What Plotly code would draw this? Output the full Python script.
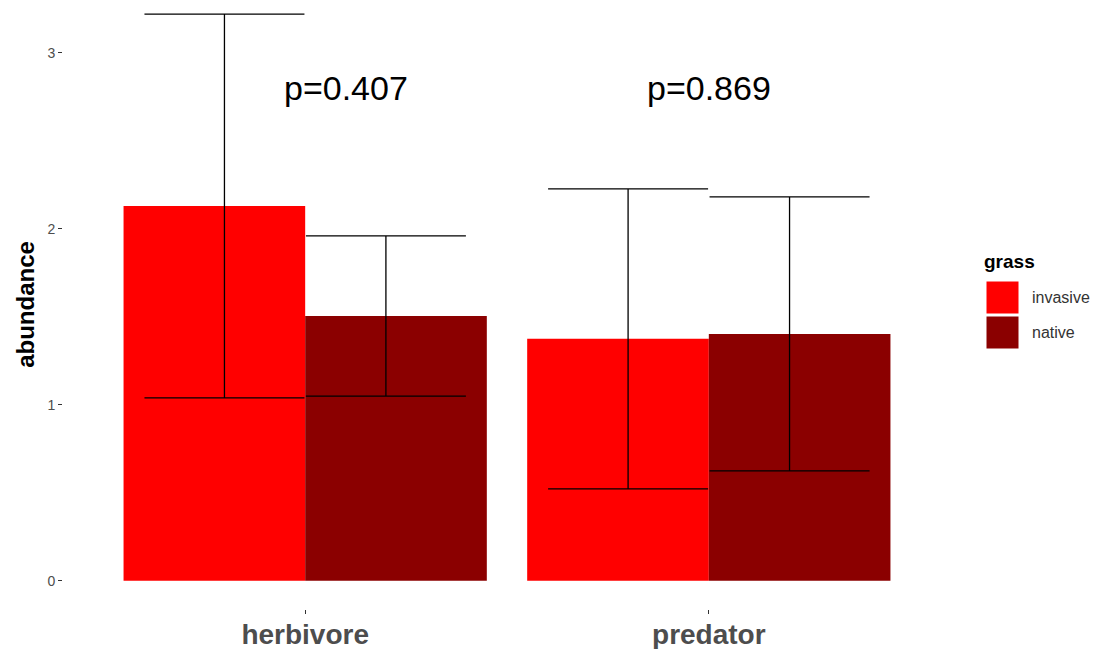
import plotly.graph_objects as go

categories = ["herbivore", "predator"]
groups = ["invasive", "native"]
colors = {"invasive": "#FF0000", "native": "#8B0000"}
means = {"invasive": [2.13, 1.375], "native": [1.505, 1.403]}
ses = {"invasive": [1.09, 0.852], "native": [0.455, 0.778]}
pvals = ["p=0.407", "p=0.869"]
p_x = [1.1, 2.0]
p_y = [2.8, 2.8]

xpos = [i + 1 for i in range(len(categories))]
dodge = {"invasive": -0.2, "native": 0.2}

# plot-area geometry in pixels (for the manual legend)
L, R, T, B = 63, 149, 0, 40
W, H = 1100, 649
PW, PH = W - L - R, H - T - B


def px_to_paper(xp, yp):
    return (xp - L) / PW, 1 - (yp - T) / PH


fig = go.Figure()
for g in groups:
    fig.add_trace(go.Bar(x=xpos, y=means[g], name=g, marker=dict(color=colors[g], line=dict(width=0)),
                         showlegend=False, hoverinfo="skip"))
for g in groups:
    fig.add_trace(go.Scatter(x=[x + dodge[g] for x in xpos], y=means[g], mode="markers",
                             marker=dict(size=1, color="rgba(0,0,0,0)"),
                             error_y=dict(type="data", array=ses[g], symmetric=True, color="black",
                                          thickness=1.3, width=80),
                             showlegend=False, hoverinfo="skip"))

for x, y, t in zip(p_x, p_y, pvals):
    fig.add_annotation(x=x, y=y, text=t, showarrow=False, xref="x", yref="y",
                       font=dict(family="Liberation Sans, Arial", size=34, color="black"))

# legend (manual, ggplot-style large keys)
key = 33
top_px = 281
for i, g in enumerate(groups):
    y0 = top_px + i * (key + 2)
    x0p, y1p = px_to_paper(986, y0)
    x1p, y0p = px_to_paper(1019, y0 + key)
    fig.add_shape(type="rect", xref="paper", yref="paper", x0=x0p, x1=x1p, y0=y0p, y1=y1p,
                  fillcolor=colors[g], line=dict(color="white", width=1))
    tx, ty = px_to_paper(1030, y0 + key / 2)
    fig.add_annotation(xref="paper", yref="paper", x=tx, y=ty,
                       text=g, showarrow=False, xanchor="left", yanchor="middle",
                       font=dict(family="Liberation Sans, Arial", size=16, color="#333333"))
gx, gy = px_to_paper(982, 261)
fig.add_annotation(xref="paper", yref="paper", x=gx, y=gy,
                   text="<b>grass</b>", showarrow=False, xanchor="left", yanchor="middle",
                   font=dict(family="Liberation Sans, Arial", size=19, color="black"))

fig.update_layout(
    template="none",
    width=W, height=H,
    margin=dict(l=L, r=R, t=T, b=B, pad=0, autoexpand=False),
    plot_bgcolor="white", paper_bgcolor="white",
    barmode="group", bargap=0.1, bargroupgap=0,
    font=dict(family="Liberation Sans, Arial"),
    showlegend=False,
    xaxis=dict(range=[0.4, 2.6], tickvals=xpos, ticktext=["<b>%s</b>" % c for c in categories],
               showgrid=False, zeroline=False, showline=False, automargin=False,
               ticks="outside", ticklen=4, tickcolor="#333333", tickwidth=1,
               ticklabelstandoff=-4,
               tickfont=dict(size=28, color="#4D4D4D")),
    yaxis=dict(range=[-0.16, 3.30], tickvals=[0, 1, 2, 3], showgrid=False, zeroline=False, showline=False,
               automargin=False,
               ticks="outside", ticklen=4, tickcolor="#333333", tickwidth=1,
               tickfont=dict(size=14, color="#4D4D4D"),
               title=dict(text="<b>abundance</b>", font=dict(size=24, color="black"), standoff=6)),
)
fig.write_html("out.html", config={"displayModeBar": False},
               post_script="document.body.style.margin='0px';document.body.style.overflow='hidden';")
